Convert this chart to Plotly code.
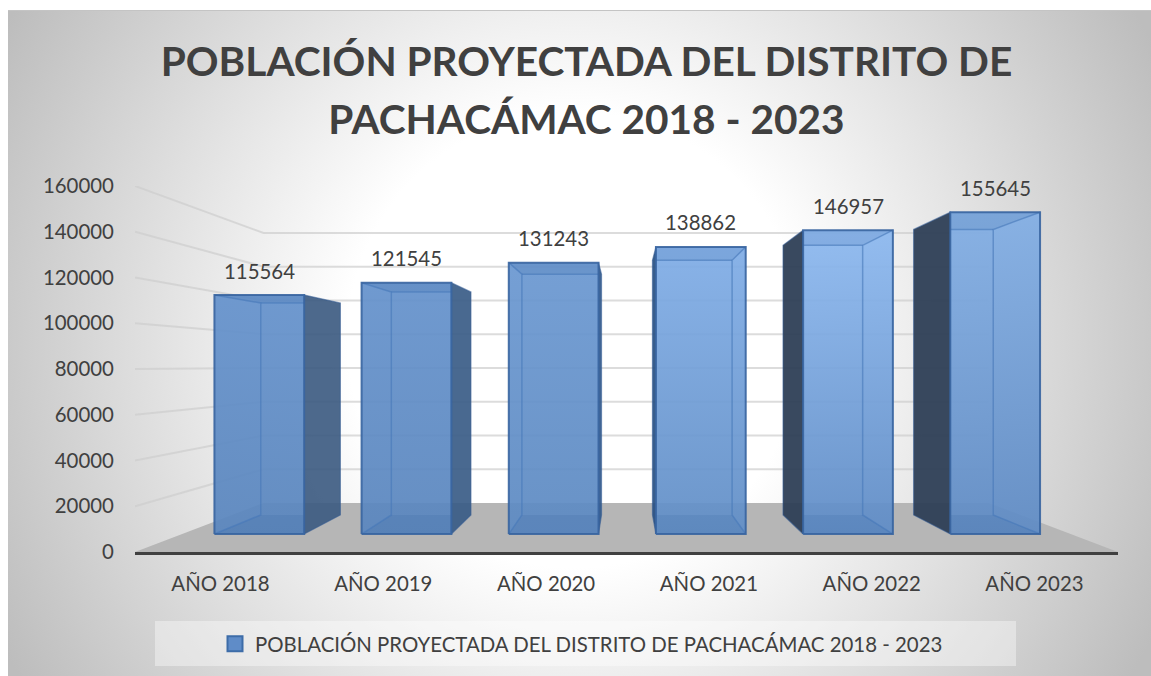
import base64
import plotly.graph_objects as go

# ---- data ----
categories = ["AÑO 2018", "AÑO 2019", "AÑO 2020", "AÑO 2021", "AÑO 2022", "AÑO 2023"]
population = [115564, 121545, 131243, 138862, 146957, 155645]
series_name = "POBLACIÓN PROYECTADA DEL DISTRITO DE PACHACÁMAC 2018 - 2023"
y_ticks = [0, 20000, 40000, 60000, 80000, 100000, 120000, 140000, 160000]
title_lines = ["POBLACIÓN PROYECTADA DEL DISTRITO DE", "PACHACÁMAC 2018 - 2023"]

# ---- styles per bar (top colour, bottom colour, side colour) ----
front_top = ["#6592cc", "#6592cc", "#6b98d1", "#80ade6", "#8cb8ef", "#82aee4"]
front_bot = ["#5a86be", "#5a86be", "#5d8ac2", "#618ec6", "#5f8cc6", "#5f8bc4"]
side_col = ["rgba(62,92,130,0.92)", "rgba(58,92,135,0.92)", "rgba(50,90,140,0.92)",
            "rgba(40,80,130,0.92)", "rgba(45,62,85,0.94)", "rgba(45,62,85,0.94)"]
EDGE = "rgba(55,100,160,0.9)"
SIDE_EDGE = "rgba(50,90,145,0.55)"
INNER = "rgba(70,120,185,0.6)"
BAND = "rgba(40,85,145,0.13)"
GRID = "rgba(205,205,205,0.7)"
TXT = "#404040"
FONT = "Lato"
SIZE = 20.4

# ---- 3D projection, in axis units ----
W, H = 1151, 676
L, R, T, B = 135, 33, 186, 124
X_RANGE = [-0.525, 5.513]
Y_RANGE = [0, 160000]
VP_X, VP_V = 2.485, 81750   # vanishing point
S_WALL, S_FRONT, S_BACK = 0.7377, 0.904, 0.802
HALF = 0.305


def pr(x, v, s):
    return VP_X + s * (x - VP_X), VP_V + s * (v - VP_V)


def poly(pts, fill=None, line=None, lw=1.5, close=True, grad=None):
    xs = [p[0] for p in pts]
    ys = [p[1] for p in pts]
    if close:
        xs.append(xs[0])
        ys.append(ys[0])
    kw = dict(x=xs, y=ys, mode="lines", hoverinfo="skip", showlegend=False,
              line=dict(color=line or "rgba(0,0,0,0)", width=lw if line else 0))
    if grad:
        kw.update(fill="toself", fillgradient=dict(type="vertical", colorscale=grad,
                                                   start=min(ys), stop=max(ys)))
    elif fill:
        kw.update(fill="toself", fillcolor=fill)
    return go.Scatter(**kw)


def rgba(h, a):
    return f"rgba({int(h[1:3],16)},{int(h[3:5],16)},{int(h[5:7],16)},{a})"


fig = go.Figure()

# floor
x0, x1 = X_RANGE
fig.add_trace(poly([pr(x0, 0, 1), pr(x1, 0, 1), pr(x1, 0, S_WALL), pr(x0, 0, S_WALL)], fill="#b6b6b6"))

# gridlines: left wall + back wall
for v in y_ticks[1:]:
    fig.add_trace(poly([pr(x0, v, 1), pr(x0, v, S_WALL), pr(x1, v, S_WALL)], line=GRID, lw=2, close=False))

# bars
for i, v in enumerate(population):
    xl, xr = i - HALF, i + HALF
    outer = xr if xr < VP_X else xl
    inner = xl if xr < VP_X else xr
    # x on the back plane that lines up with the outer front edge on screen
    outer_b = VP_X + (S_FRONT / S_BACK) * (outer - VP_X)
    # outer side face
    fig.add_trace(poly([pr(outer, 0, S_FRONT), pr(outer, v, S_FRONT), pr(outer, v, S_BACK), pr(outer, 0, S_BACK)],
                       fill=side_col[i], line=SIDE_EDGE, lw=1.2))
    # front face
    fig.add_trace(poly([pr(xl, 0, S_FRONT), pr(xr, 0, S_FRONT), pr(xr, v, S_FRONT), pr(xl, v, S_FRONT)],
                       grad=[[0, rgba(front_bot[i], 0.93)], [1, rgba(front_top[i], 0.93)]]))
    # top and bottom faces seen through the front face
    fig.add_trace(poly([pr(inner, v, S_FRONT), pr(outer, v, S_FRONT), pr(outer_b, v, S_BACK), pr(inner, v, S_BACK)], fill=BAND))
    fig.add_trace(poly([pr(inner, 0, S_FRONT), pr(outer, 0, S_FRONT), pr(outer_b, 0, S_BACK), pr(inner, 0, S_BACK)], fill=BAND))
    # inner edges seen through the front face
    fig.add_trace(poly([pr(inner, v, S_FRONT), pr(inner, v, S_BACK), pr(inner, 0, S_BACK), pr(inner, 0, S_FRONT)],
                       line=INNER, lw=1.5, close=False))
    fig.add_trace(poly([pr(inner, v, S_BACK), pr(outer_b, v, S_BACK)], line=INNER, lw=1.5, close=False))
    # front outline
    fig.add_trace(poly([pr(xl, 0, S_FRONT), pr(xr, 0, S_FRONT), pr(xr, v, S_FRONT), pr(xl, v, S_FRONT)], line=EDGE, lw=2))
    lx, ly = pr(i, v, S_FRONT)
    fig.add_annotation(x=lx, y=ly, text=str(v), showarrow=False, yshift=24.5, xanchor="center", yanchor="middle",
                       font=dict(family=FONT, size=SIZE, color=TXT))

# legend entry
fig.add_trace(go.Scatter(x=[None], y=[None], mode="markers", name=series_name, showlegend=True,
                         marker=dict(symbol="square", size=15, color="#5f8cc8", line=dict(color="#3d6ca8", width=2))))

# background: radial gradient
svg = ('<svg xmlns="http://www.w3.org/2000/svg" width="1143" height="666" viewBox="0 0 1143 666">'
       '<defs><radialGradient id="g" gradientUnits="userSpaceOnUse" cx="567" cy="330" r="650">'
       '<stop offset="0.35" stop-color="#ffffff"/><stop offset="1" stop-color="#bdbdbd"/></radialGradient></defs>'
       '<rect width="1143" height="666" fill="url(#g)"/></svg>')
uri = "data:image/svg+xml;base64," + base64.b64encode(svg.encode()).decode()
PW, PH = W - L - R, H - T - B
fig.add_layout_image(source=uri, xref="paper", yref="paper", x=(8 - L) / PW, y=(552 - 10) / PH,
                     sizex=1143 / PW, sizey=666 / PH, xanchor="left", yanchor="top",
                     sizing="stretch", layer="below")
# top edge of the chart area and legend panel
fig.add_shape(type="line", xref="paper", yref="paper", layer="below", x0=(8 - L) / PW, x1=(W - L) / PW,
              y0=(552 - 10.5) / PH, y1=(552 - 10.5) / PH, line=dict(color="#c4c4c4", width=1))
fig.add_shape(type="rect", xref="paper", yref="paper", layer="below", x0=(155 - L) / PW, x1=(1016 - L) / PW,
              y0=(552 - 621) / PH, y1=(552 - 666) / PH, line=dict(width=0), fillcolor="rgba(255,255,255,0.38)")

title_text = "<br>".join(f'<span style="font-size:40.6px">{t}</span>' for t in title_lines)

fig.update_layout(
    width=W, height=H, autosize=False,
    margin=dict(l=L, r=R, t=T, b=B, pad=0),
    paper_bgcolor="white", plot_bgcolor="rgba(0,0,0,0)",
    font=dict(family=FONT, size=SIZE, color=TXT),
    title=dict(text=title_text, x=586.5 / W, xanchor="center", xref="container", y=1 - 76 / H, yanchor="top",
               yref="container", font=dict(family=FONT, size=44.6, color=TXT, weight="bold")),
    xaxis=dict(range=X_RANGE, tickmode="array", tickvals=list(range(len(categories))), ticktext=categories,
               showgrid=False, zeroline=False, showline=True, linecolor=TXT, linewidth=3,
               ticks="outside", ticklen=12, tickcolor="rgba(0,0,0,0)", tickfont=dict(family=FONT, size=SIZE, color=TXT)),
    yaxis=dict(range=Y_RANGE, tickmode="array", tickvals=y_ticks, ticktext=[str(t) for t in y_ticks],
               showgrid=False, zeroline=False, showline=False,
               ticks="outside", ticklen=16, tickcolor="rgba(0,0,0,0)", tickfont=dict(family=FONT, size=SIZE, color=TXT)),
    showlegend=True,
    legend=dict(x=(215 - L) / PW, xanchor="left", y=(552 - 644) / PH, yanchor="middle", bgcolor="rgba(0,0,0,0)",
                font=dict(family=FONT, size=SIZE, color=TXT), itemwidth=30),
)

fig.write_html("out.html", config={"displayModeBar": False},
               post_script="document.body.style.margin='0';document.body.style.overflow='hidden';")
